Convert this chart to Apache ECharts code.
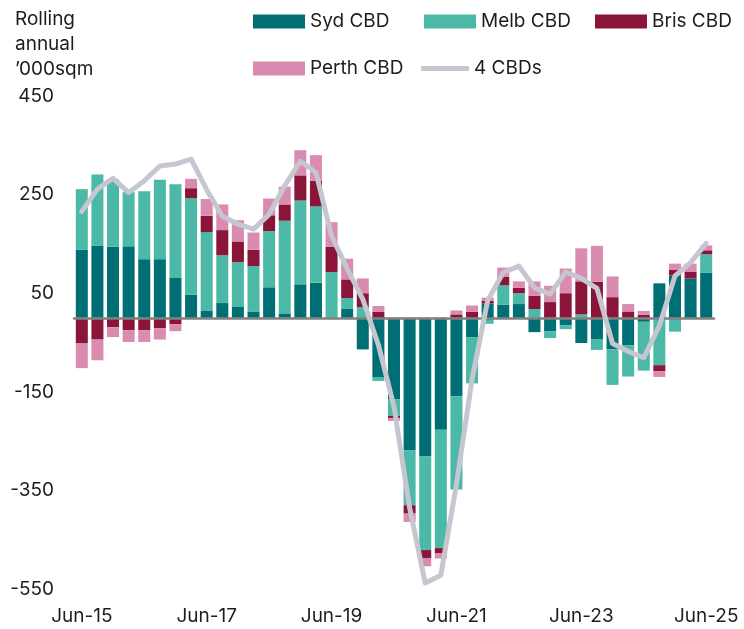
<!DOCTYPE html>
<html>
<head>
<meta charset="utf-8">
<script src="https://cdn.jsdelivr.net/npm/echarts@6/dist/echarts.min.js"></script>
<style>
    html, body { margin: 0; padding: 0; background: #fff; }
    #chart { width: 744px; height: 629px; }
</style>
</head>
<body>
<div id="chart"></div>
<script>
// ============================= data ===============================

let quarters = [
    'Jun-15', 'Sep-15', 'Dec-15', 'Mar-16', 'Jun-16', 'Sep-16', 'Dec-16', 'Mar-17',
    'Jun-17', 'Sep-17', 'Dec-17', 'Mar-18', 'Jun-18', 'Sep-18', 'Dec-18', 'Mar-19',
    'Jun-19', 'Sep-19', 'Dec-19', 'Mar-20', 'Jun-20', 'Sep-20', 'Dec-20', 'Mar-21',
    'Jun-21', 'Sep-21', 'Dec-21', 'Mar-22', 'Jun-22', 'Sep-22', 'Dec-22', 'Mar-23',
    'Jun-23', 'Sep-23', 'Dec-23', 'Mar-24', 'Jun-24', 'Sep-24', 'Dec-24', 'Mar-25',
    'Jun-25'
];

let sydCBD = [
    138, 147, 144, 145, 119, 119, 81, 47,
    15, 30, 22, 12, 62, 8, 68, 71,
    0, 19, -64, -120, -165, -269, -281, -227,
    -159, -39, 29, 27, 28, -29, -27, -15,
    -51, -43, -64, -56, -8, 70, 86, 80,
    92
];

let melbCBD = [
    123, 144, 137, 110, 138, 161, 190, 196,
    159, 97, 91, 93, 114, 189, 170, 155,
    93, 21, 22, -8, -34, -111, -190, -240,
    -189, -94, -12, 39, 22, 18, -14, -8,
    7, -22, -72, -63, -99, -96, -28, 0,
    37
];

let brisCBD = [
    -52, -44, -19, -25, -25, -21, -13, 20,
    33, 51, 42, 33, 32, 33, 51, 52,
    51, 38, 28, 12, -4, -17, -17, -10,
    7, 12, 6, 17, 11, 27, 32, 50,
    67, 73, 42, 13, 6, -12, 11, 13,
    8
];

let perthCBD = [
    -50, -42, -20, -24, -24, -23, -14, 19,
    34, 52, 43, 35, 34, 36, 51, 52,
    50, 42, 30, 12, -6, -17, -16, -11,
    8, 13, 6, 19, 13, 29, 33, 50,
    67, 73, 42, 15, 8, -12, 13, 17,
    10
];

let fourCBDs = [
    216, 261, 283, 254, 278, 308, 312, 322,
    260, 206, 190, 180, 210, 268, 318, 295,
    166, 100, 38, -55, -180, -385, -538, -522,
    -338, -125, 35, 92, 105, 61, 48, 93,
    80, 60, -52, -68, -81, -16, 85, 112,
    151
];

let yTicks = [-550, -350, -150, 50, 250, 450];

// ============================= style ===============================

let fontName = 'Inter';
let textColor = '#1d1d1b';
let lineColor = '#c5c6d0';

function barSeries(name, data, color) {
    return {
        name: name,
        type: 'bar',
        stack: 'cbd',
        barCategoryGap: '23%',
        data: data,
        itemStyle: { color: color }
    };
}

// one legend per entry so each swatch sits where the original has it
function legendItem(name, left, top, w, h, icon) {
    return {
        data: [{ name: name, icon: icon || 'rect' }],
        left: left,
        top: top,
        padding: 0,
        itemWidth: w,
        itemHeight: h,
        itemGap: 0,
        textStyle: { fontSize: 19, color: textColor, fontFamily: fontName, padding: [0, 0, 0, 0] }
    };
}

let option = {
    animation: false,
    textStyle: { fontFamily: fontName },
    title: {
        text: 'Rolling\nannual\n\u2019000sqm',
        left: 10,
        top: 2,
        textStyle: {
            fontFamily: fontName,
            fontSize: 19,
            fontWeight: 'normal',
            color: textColor,
            lineHeight: 25
        }
    },
    legend: [
        legendItem('Syd CBD', 253, 12, 52, 14),
        legendItem('Melb CBD', 424, 12, 52, 14),
        legendItem('Bris CBD', 595, 12, 52, 14),
        legendItem('Perth CBD', 253, 59, 52, 14),
        legendItem('4 CBDs', 421, 59, 48, 5, 'roundRect')
    ],
    grid: {
        left: 74,
        right: 30,
        top: 96,
        bottom: 40,
        containLabel: false
    },
    xAxis: {
        type: 'category',
        data: quarters,
        axisLine: { onZero: true, lineStyle: { color: '#808080', width: 2.5 } },
        axisTick: { show: false },
        axisLabel: {
            interval: 7,
            color: textColor,
            fontSize: 19,
            fontFamily: fontName,
            margin: 18
        },
        z: 5
    },
    yAxis: {
        type: 'value',
        min: -550,
        max: 450,
        splitLine: { show: false },
        axisLine: { show: false },
        axisTick: { show: false },
        axisLabel: {
            customValues: yTicks,
            color: textColor,
            fontSize: 19,
            fontFamily: fontName,
            margin: 20
        }
    },
    series: [
        barSeries('Syd CBD', sydCBD, '#006e75'),
        barSeries('Melb CBD', melbCBD, '#4cb9a8'),
        barSeries('Bris CBD', brisCBD, '#8a1538'),
        barSeries('Perth CBD', perthCBD, '#d98bb0'),
        {
            name: '4 CBDs',
            type: 'line',
            data: fourCBDs,
            symbol: 'none',
            z: 10,
            itemStyle: { color: lineColor },
            lineStyle: { color: lineColor, width: 5, cap: 'round', join: 'round' }
        }
    ]
};

// ============================= render ===============================

echarts.init(document.getElementById('chart')).setOption(option);
</script>
</body>
</html>
